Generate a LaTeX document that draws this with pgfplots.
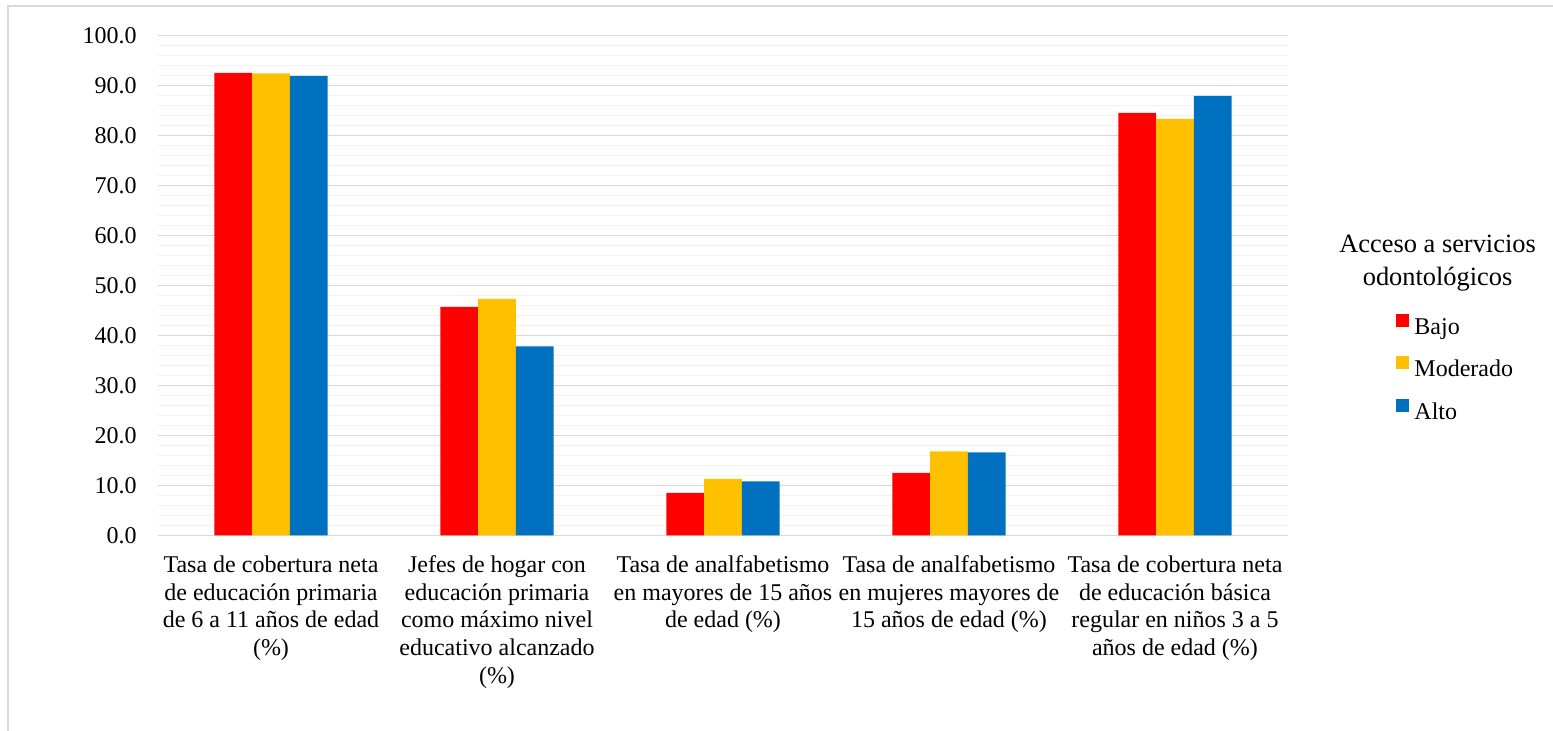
\documentclass[border=0pt]{standalone}
\usepackage{fontspec}
\setmainfont{Liberation Serif}
\usepackage{pgfplots}
\pgfplotsset{compat=1.18}

\definecolor{cBajo}{HTML}{FF0000}
\definecolor{cMod}{HTML}{FFC000}
\definecolor{cAlto}{HTML}{0070C0}
\definecolor{gmaj}{HTML}{D9D9D9}
\definecolor{gmin}{HTML}{F2F2F2}

\begin{document}
\begin{tikzpicture}
\useasboundingbox (0,0) rectangle (776.5pt,365.5pt);
% chart frame (only top and left edges visible)
\draw[gmaj, line width=1pt] (4pt,0) -- (4pt,362.5pt) -- (776.5pt,362.5pt);

\begin{axis}[
    at={(79pt,97.85pt)}, anchor=south west,
    scale only axis,
    width=565pt, height=250pt,
    ybar=0pt, bar width=18.85pt,
    xmin=-0.5, xmax=4.5,
    ymin=0, ymax=100,
    xtick={0,1,2,3,4},
    xticklabels={
        {Tasa de cobertura neta\\de educación primaria\\de 6 a 11 años de edad\\(\%)},
        {Jefes de hogar con\\educación primaria\\como máximo nivel\\educativo alcanzado\\(\%)},
        {Tasa de analfabetismo\\en mayores de 15 años\\de edad (\%)},
        {Tasa de analfabetismo\\en mujeres mayores de\\15 años de edad (\%)},
        {Tasa de cobertura neta\\de educación básica\\regular en niños 3 a 5\\años de edad (\%)}
    },
    ytick={0,10,...,100},
    minor y tick num=4,
    ymajorgrids, yminorgrids,
    major grid style={gmaj, line width=0.75pt},
    minor grid style={gmin, line width=0.75pt},
    axis line style={draw=none},
    major tick length=0pt, minor tick length=0pt,
    tick style={draw=none},
    yticklabel style={font=\fontsize{12}{13.8}\selectfont, inner sep=0pt, xshift=-10.5pt,
        /pgf/number format/.cd, fixed, fixed zerofill, precision=1, assume math mode=true},
    xticklabel style={font=\fontsize{12}{13.8}\selectfont, align=center, inner sep=0pt, yshift=-10.1pt},
    legend style={
        at={(rel axis cs:1.0956,0.3316)}, anchor=west,
        draw=none, fill=none, inner sep=0pt,
        font=\fontsize{12}{13.8}\selectfont,
        row sep=8pt, column sep=2.5pt,
        nodes={inner sep=0pt, text height=8pt, text depth=3pt},
        cells={anchor=west},
    },
    legend image code/.code={\fill[#1] (0pt,1.2pt) rectangle (6.5pt,7.7pt);},
    clip=false,
]
\addplot[fill=cBajo, draw=none] coordinates {(0,92.5) (1,45.7) (2,8.5) (3,12.5) (4,84.5)};
\addplot[fill=cMod, draw=none] coordinates {(0,92.4) (1,47.3) (2,11.3) (3,16.8) (4,83.3)};
\addplot[fill=cAlto, draw=none] coordinates {(0,91.9) (1,37.8) (2,10.8) (3,16.6) (4,87.9)};
\legend{Bajo, Moderado, Alto}
\end{axis}

\node[align=center, font=\fontsize{13.2}{16.5}\selectfont] at (718.8pt,234pt)
    {Acceso a servicios\\odontológicos};
\end{tikzpicture}
\end{document}
